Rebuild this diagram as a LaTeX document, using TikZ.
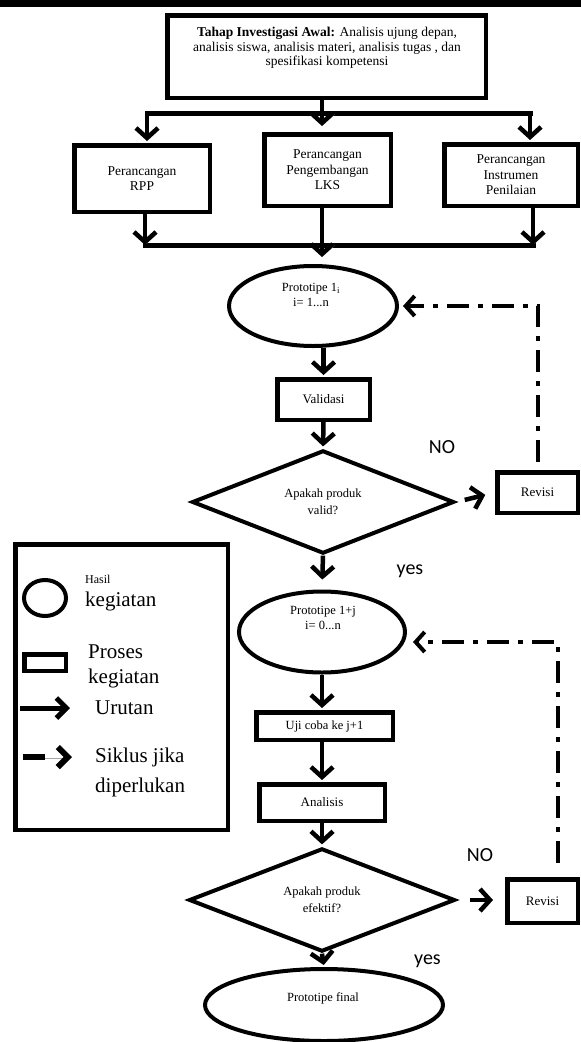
\documentclass[tikz,border=0pt]{standalone}
\usepackage{fontspec}
\setmainfont{Liberation Serif}
\newfontfamily\calibrifont{Carlito}
\usetikzlibrary{arrows.meta,shapes.geometric}
\begin{document}
\begin{tikzpicture}[x=1pt,y=-1pt,
  fbox/.style={draw, line width=4.5pt, rectangle, inner sep=0pt, align=center, font=\fontsize{13.5}{16}\selectfont},
  fbig/.style={fbox, font=\fontsize{13.5}{15.5}\selectfont},
  foval/.style={draw, line width=4pt, ellipse, inner sep=0pt},
  fdia/.style={draw, line width=4pt, diamond, inner sep=0pt, align=center, font=\fontsize{12.5}{17}\selectfont},
  ftxt/.style={align=center, inner sep=0pt, font=\fontsize{12.5}{15.5}\selectfont},
  fshadow/.style={preaction={draw=black!35, transform canvas={shift={(1.5pt,-1.5pt)}}}},
  farr/.style={line width=4.5pt, -{Straight Barb[length=10pt,width=22pt]}, shorten >=2pt, fshadow},
  fcyc/.style={line width=4pt, dash pattern=on 22pt off 9pt on 5pt off 9pt, -{Straight Barb[length=9pt,width=20pt]}},
  fbar/.style={line width=5pt, line cap=rect, fshadow},
  ftag/.style={fill=white, inner sep=0pt, font=\calibrifont\fontsize{20}{24}\selectfont},
  fleg/.style={anchor=west, inner sep=0pt, font=\fontsize{21}{26}\selectfont},
]
\useasboundingbox (0,0) rectangle (581,1042);
\fill[black] (0,0) rectangle (581,7);

% labels with white backgrounds (drawn first)
\node[ftag, minimum width=86pt, minimum height=58pt] (yes1) at (410,571) {yes};
\node[ftag, minimum width=94pt, minimum height=64pt] (no2) at (480,855) {NO};
\node[ftag, minimum width=81pt, minimum height=58pt] (yes2) at (427.5,961) {yes};
\node[ftag, fill=none] (no1) at (442,447) {NO};

% top stage
\node[fbox, minimum width=318.5pt, minimum height=82.5pt] (top) at (326.5,56.5) {};
\node[align=center, inner sep=0pt, font=\fontsize{13.5}{14.7}\selectfont] (toptxt) at (327,48) {\textbf{Tahap Investigasi Awal:} Analisis ujung depan,\\analisis siswa, analisis materi, analisis tugas , dan\\spesifikasi kompetensi};

\node[fbig, minimum width=135.5pt, minimum height=66.5pt] (rpp) at (142,178.5) {Perancangan\\RPP};
\node[fbig, minimum width=126.5pt, minimum height=71.5pt] (lks) at (327.5,170) {Perancangan\\Pengembangan\\LKS};
\node[fbig, minimum width=133.5pt, minimum height=61.5pt] (ins) at (511,175) {Perancangan\\Instrumen\\Penilaian};

% first cycle
\node[foval, minimum width=168pt, minimum height=80pt] (p1) at (313,306) {};
\node[ftxt] (p1t) at (311,295) {Prototipe 1\textsubscript{i}\\i= 1...n};
\node[fbox, font=\fontsize{13}{15}\selectfont, minimum width=92.5pt, minimum height=40.5pt] (val) at (323.5,399.5) {Validasi};
\node[fdia, minimum width=262pt, minimum height=76pt] (d1) at (323,502) {Apakah produk\\valid?};
\node[fbox, font=\fontsize{13}{15}\selectfont, minimum width=80.5pt, minimum height=40.5pt] (rev1) at (537.5,492.5) {Revisi};

% second cycle
\node[foval, minimum width=166pt, minimum height=81pt] (p2) at (322,632) {};
\node[ftxt] (p2t) at (323,618) {Prototipe 1+j\\i= 0...n};
\node[fbox, font=\fontsize{12.5}{15}\selectfont, minimum width=136.5pt, minimum height=27.5pt] (uji) at (324.5,726) {Uji coba ke j+1};
\node[fbox, font=\fontsize{13}{15}\selectfont, minimum width=125.5pt, minimum height=36.5pt] (ana) at (322,802.5) {Analisis};
\node[fdia, minimum width=266pt, minimum height=80pt] (d2) at (322,900) {Apakah produk\\efektif?};
\node[fbox, font=\fontsize{13}{15}\selectfont, minimum width=70.5pt, minimum height=43.5pt] (rev2) at (542.5,901) {Revisi};
\node[foval, minimum width=238pt, minimum height=72pt] (fin) at (324,1005) {};
\node[ftxt] (fint) at (323,998) {Prototipe final};

% connectors: top part
\coordinate (tj) at (322,126);
\coordinate (t1) at (147,113);
\coordinate (t2) at (530,113);
\draw[fbar] (t1) -- (t2);
\draw[farr, shorten >=0pt] (top.south -| tj) -- (tj);
\draw[farr] (t1) -- (rpp.north -| t1);
\draw[farr] (t2) -- (ins.north -| t2);

\coordinate (b1) at (145,245);
\coordinate (b2) at (533,245);
\coordinate (bj) at (322,245);
\draw[fbar] (b1) -- (b2);
\draw[farr, shorten >=0pt] (rpp.south -| b1) -- (b1);
\draw[farr, shorten >=0pt] (ins.south -| b2) -- (b2);
\draw[farr, shorten >=7pt] (lks.south -| bj) -- (p1.north -| bj);

\draw[farr] (val.north |- p1.south) -- (val.north);
\draw[farr] (val.south) -- (d1.north);
\draw[farr, shorten >=10pt] (d1.south) -- (p2.north);
\draw[farr] (p2.south) -- (p2.south |- uji.north);
\draw[farr] (uji.south -| ana.north) -- (ana.north);
\draw[farr] (ana.south) -- (d2.north);
\draw[farr] (d2.south) -- (fin.north);

\draw[farr, shorten <=9pt, shorten >=10pt] (d1.east) -- (rev1.west);
\draw[farr, shorten <=13pt, shorten >=12pt] (d2.east) -- (d2.east -| rev2.west);

% revision cycles
\draw[fcyc, shorten <=8pt, shorten >=4pt] (rev1.north) |- (p1.east);
\coordinate (c2b) at (558,642);
\draw[fcyc, shorten <=14pt, shorten >=6pt] (rev2.north -| c2b) -- (c2b) -- (c2b -| p2.east);

% legend
\node[draw, line width=4.5pt, inner sep=0pt, minimum width=212.5pt, minimum height=285.5pt] (leg) at (121.5,687) {};
\node[draw, ellipse, line width=4pt, inner sep=0pt, minimum width=42pt, minimum height=36pt] (icE) at (45,598) {};
\node[draw, line width=4.5pt, inner sep=0pt, minimum width=41.5pt, minimum height=16.5pt] (icR) at (45,662.5) {};
\coordinate (icA1) at (20,708);
\coordinate (icA2) at (70,708);
\draw[line width=5pt, -{Straight Barb[length=10pt,width=20pt]}, fshadow] (icA1) -- (icA2);
\coordinate (icD1) at (23,757);
\coordinate (icD2) at (72,757);
\draw[line width=6pt, dash pattern=on 22pt off 40pt, -{Straight Barb[length=10pt,width=20pt]}, fshadow] (icD1) -- (icD2);
\node[fleg, font=\fontsize{12}{14}\selectfont] (lgH) at (85,579) {Hasil};
\node[fleg] (lgK) at (85,601) {kegiatan};
\node[fleg] (lgP) at (88,652) {Proses};
\node[fleg] (lgK2) at (88,678) {kegiatan};
\node[fleg] (lgU) at (95,708) {Urutan};
\node[fleg] (lgS) at (95,757) {Siklus jika};
\node[fleg] (lgD) at (95,787) {diperlukan};
\end{tikzpicture}
\end{document}
